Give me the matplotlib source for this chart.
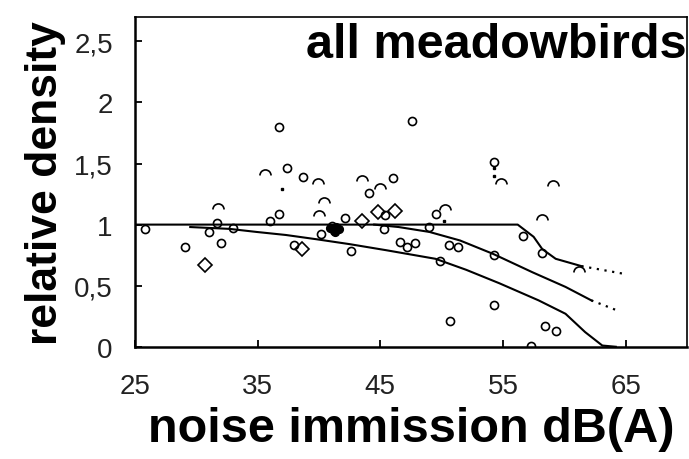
"""Relative density of meadow birds vs noise immission dB(A)."""
import matplotlib
matplotlib.use("Agg")
import matplotlib.pyplot as plt
from matplotlib.path import Path

# ---- data ------------------------------------------------------------
# open circles
circle_x = [25.8, 29.1, 31.0, 31.7, 32.0, 33.0, 36.0, 36.7, 36.7, 37.4,
            38.0, 38.7, 40.2, 41.1, 42.1, 42.6, 44.1, 46.0, 45.4, 45.3,
            46.6, 47.6, 47.2, 47.8, 49.0, 49.5, 50.6, 51.3, 49.9, 50.7,
            54.3, 54.3, 54.3, 56.6, 58.2, 58.4, 59.3, 57.3]
circle_y = [0.96, 0.815, 0.94, 1.01, 0.85, 0.975, 1.03, 1.09, 1.80, 1.46,
            0.83, 1.39, 0.92, 0.99, 1.05, 0.78, 1.26, 1.38, 1.08, 0.96,
            0.855, 1.85, 0.815, 0.85, 0.98, 1.09, 0.83, 0.815, 0.705, 0.21,
            1.51, 0.75, 0.34, 0.91, 0.77, 0.17, 0.13, 0.01]

# overlapping points that merge into a black blob
blob_x = [40.9, 41.2, 41.4, 41.6, 41.3]
blob_y = [0.97, 0.95, 0.98, 0.96, 0.94]

# larger open diamonds
diamond_x = [30.7, 38.6, 43.5, 44.8, 46.2]
diamond_y = [0.67, 0.80, 1.03, 1.10, 1.11]

# half-drawn (arc) markers
arc_x = [31.8, 35.6, 39.9, 40.4, 40.0, 43.5, 45.0, 50.3, 54.8, 58.2,
         59.1, 61.2]
arc_y = [1.13, 1.41, 1.33, 1.18, 1.07, 1.36, 1.29, 1.12, 1.33, 1.04,
         1.32, 0.61]

# tiny marks
dot_x = [37.0, 54.3, 54.3, 50.2]
dot_y = [1.29, 1.46, 1.40, 1.03]

# fitted curves
upper_x = [25.0, 56.2, 57.5, 58.2, 59.3, 61.4]
upper_y = [1.0, 1.0, 0.9, 0.8, 0.72, 0.66]
upper_ext_x = [61.4, 64.7]
upper_ext_y = [0.66, 0.60]

mid_x = [44.5, 46.5, 49.0, 51.5, 54.2, 57.4, 60.1, 62.2]
mid_y = [1.0, 0.98, 0.94, 0.87, 0.76, 0.61, 0.49, 0.38]
mid_ext_x = [62.2, 64.5]
mid_ext_y = [0.38, 0.29]

low_x = [29.5, 32.7, 34.9, 37.3, 39.8, 42.5, 45.5, 49.5, 52.0, 54.7,
         57.9, 60.1, 61.7, 63.1, 64.2]
low_y = [0.98, 0.965, 0.94, 0.915, 0.88, 0.84, 0.79, 0.72, 0.63, 0.52,
         0.38, 0.27, 0.12, 0.01, 0.0]

x_ticks = [25, 35, 45, 55, 65]
y_ticks = [0, 0.5, 1, 1.5, 2, 2.5]
y_tick_labels = ["0", "0,5", "1", "1,5", "2", "2,5"]

# ---- figure -----------------------------------------------------------
plt.rcParams["font.family"] = ["Liberation Sans", "DejaVu Sans"]

fig = plt.figure(figsize=(6.89, 4.60), dpi=100)
ax = fig.add_axes([0.196, 0.244, 0.801, 0.717])

ax.plot(upper_x, upper_y, color="black", lw=1.5)
ax.plot(upper_ext_x, upper_ext_y, color="black", lw=1.6,
        linestyle=(0, (1, 2.5)))
ax.plot(mid_x, mid_y, color="black", lw=1.5)
ax.plot(mid_ext_x, mid_ext_y, color="black", lw=1.6,
        linestyle=(0, (1, 2.5)))
ax.plot(low_x, low_y, color="black", lw=1.5)

ax.plot(circle_x, circle_y, linestyle="none", marker="o", ms=5.8,
        mfc="none", mec="black", mew=1.2)
ax.plot(blob_x, blob_y, linestyle="none", marker="o", ms=5.5,
        mfc="black", mec="black", mew=1.1)
ax.plot(diamond_x, diamond_y, linestyle="none", marker="D", ms=7,
        mfc="none", mec="black", mew=1.2)
ax.plot(arc_x, arc_y, linestyle="none", marker=Path.arc(0, 180), ms=8,
        mfc="none", mec="black", mew=1.2)
ax.plot(dot_x, dot_y, linestyle="none", marker="s", ms=2,
        mfc="black", mec="black")

ax.set_xlim(25, 70)
ax.set_ylim(0, 2.7)
ax.set_xticks(x_ticks)
ax.set_xticklabels([str(v) for v in x_ticks])
ax.set_yticks(y_ticks)
ax.set_yticklabels(y_tick_labels)
ax.tick_params(axis="both", direction="in", length=5, width=1.3,
               labelsize=20, colors="black", labelcolor="#222222")
ax.tick_params(axis="x", pad=19)
ax.tick_params(axis="y", pad=16)
for side in ("left", "bottom"):
    ax.spines[side].set_linewidth(1.8)
for side in ("top", "right"):
    ax.spines[side].set_linewidth(1.2)

ax.set_xlabel("noise immission dB(A)", fontsize=35, fontweight="bold",
              labelpad=5)
ax.set_ylabel("relative density", fontsize=32, fontweight="bold",
              labelpad=6)
ax.text(0.999, 0.879, "all meadowbirds", transform=ax.transAxes,
        ha="right", va="baseline", fontsize=35, fontweight="bold")

fig.savefig("out.png", dpi=100)
